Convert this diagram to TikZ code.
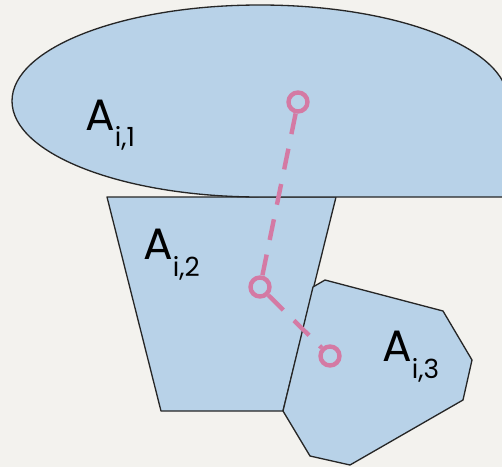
\documentclass[tikz,border=0pt]{standalone}
\usepackage{fontspec}
\setmainfont{Poppins}
\usetikzlibrary{positioning}
\definecolor{regionblue}{RGB}{184,210,232}
\definecolor{probepink}{RGB}{212,122,164}
\definecolor{paper}{RGB}{243,242,238}
\newcommand{\subidx}[1]{\raisebox{-0.34cm}{\fontsize{15}{18}\selectfont i,#1}}

\begin{document}
\begin{tikzpicture}[
    region/.style={fill=regionblue, draw=black!85, line width=0.75pt, line join=round},
    link/.style={draw=probepink, line width=2.5pt, dash pattern=on 12pt off 8.5pt},
    probe/.style={circle, draw=probepink, line width=2.5pt, minimum size=0.38cm, inner sep=0pt},
    setname/.style={anchor=base west, inner sep=0pt, font=\fontsize{25}{30}\selectfont}
  ]
  \fill[paper] (0,0) rectangle (10.04,9.34);
  \useasboundingbox (0,0) rectangle (10.04,9.34);
  \clip (0,0) rectangle (10.04,9.34);
  \draw[region] (2.14,5.40) -- (6.72,5.40) -- (5.66,1.12) -- (3.22,1.12) -- cycle;
  \draw[region] (6.26,3.60) -- (6.50,3.74) -- (8.86,3.12) -- (9.44,2.14) -- (9.26,1.34)
    -- (7.00,0.04) -- (6.20,0.22) -- (5.66,1.12) -- cycle;
  \draw[region] (5.20,5.40) arc[start angle=270, end angle=0, x radius=4.96, y radius=1.92]
    -- (10.16,5.40) -- cycle;
  \node[probe] (p1) at (5.96,7.30) {};
  \node[probe] (p2) at (5.20,3.60) {};
  \node[probe] (p3) at (6.60,2.22) {};
  \draw[link] (p1) -- (p2);
  \draw[link] (p2) -- (p3);
  \node[setname] (a1) at (1.70,6.74) {A\subidx{1}};
  \node[setname] (a2) at (2.86,4.16) {A\subidx{2}};
  \node[setname] (a3) at (7.64,2.12) {A\subidx{3}};
\end{tikzpicture}
\end{document}
